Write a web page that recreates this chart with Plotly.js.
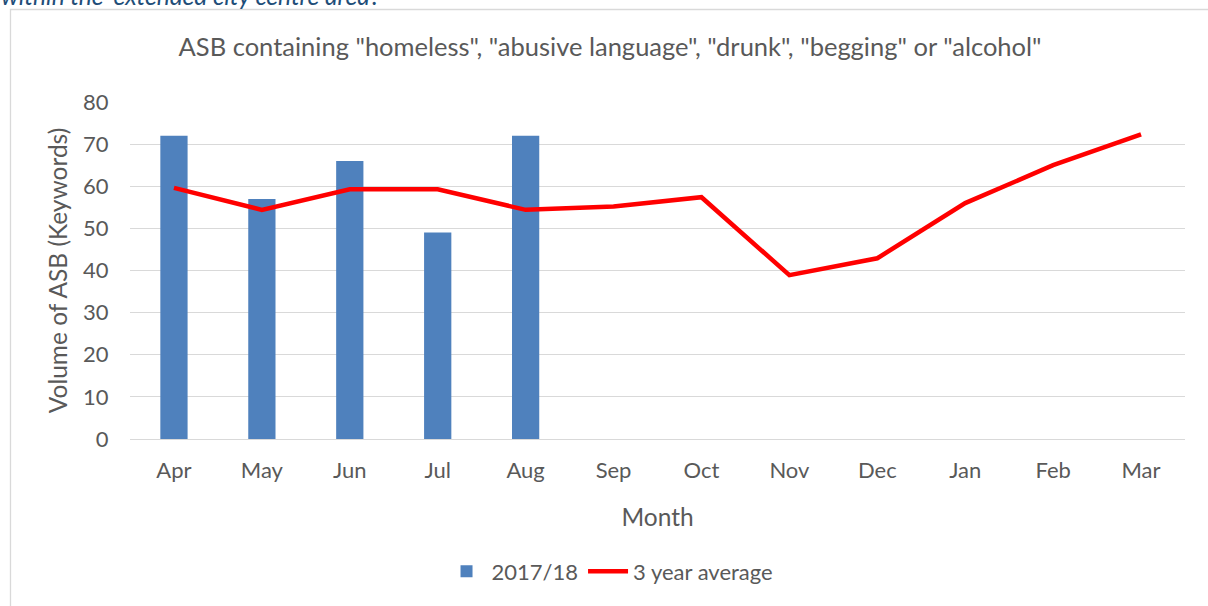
<!DOCTYPE html>
<html>
<head>
<meta charset="utf-8">
<script src="https://cdn.plot.ly/plotly-3.0.1.min.js"></script>
<style>
  html, body { margin: 0; padding: 0; background: #ffffff; }
  #chart { width: 1208px; height: 606px; }
</style>
</head>
<body>
<div id="chart"></div>
<script>
// ---- data ----
const months = ["Apr", "May", "Jun", "Jul", "Aug", "Sep", "Oct", "Nov", "Dec", "Jan", "Feb", "Mar"];
const series2017 = [72, 57, 66, 49, 72, null, null, null, null, null, null, null];
const threeYearAvg = [59.6, 54.4, 59.3, 59.3, 54.4, 55.2, 57.4, 38.9, 42.9, 56.0, 65.0, 72.3];
const yTicks = [0, 10, 20, 30, 40, 50, 60, 70, 80];

const FONT = "Lato, 'Open Sans', sans-serif";
const TXT = "#595959";

const traces = [
  {
    type: "bar",
    name: "2017/18",
    x: months,
    y: series2017,
    marker: { color: "#4F81BD" },
    hoverinfo: "x+y"
  },
  {
    type: "scatter",
    mode: "lines",
    name: "3 year average",
    x: months,
    y: threeYearAvg,
    line: { color: "#FF0000", width: 4.5, shape: "linear" },
    hoverinfo: "x+y"
  }
];

const layout = {
  width: 1208,
  height: 606,
  margin: { l: 130, r: 23, t: 102, b: 167 },
  paper_bgcolor: "#ffffff",
  plot_bgcolor: "#ffffff",
  font: { family: FONT, color: TXT, size: 22 },
  bargap: 0.69,
  showlegend: true,
  title: {
    text: 'ASB containing "homeless", "abusive language", "drunk", "begging" or "alcohol"',
    font: { family: FONT, size: 25.5, color: TXT },
    xref: "container", x: 0.505, xanchor: "center",
    yref: "container", y: 0.922, yanchor: "middle"
  },
  xaxis: {
    type: "category",
    categoryorder: "array",
    categoryarray: months,
    showgrid: false,
    showline: true,
    linecolor: "#d9d9d9",
    linewidth: 1,
    zeroline: false,
    ticks: "outside",
    ticklen: 12,
    tickcolor: "rgba(0,0,0,0)",
    tickfont: { family: FONT, size: 22, color: TXT },
    title: { text: "Month", font: { family: FONT, size: 24.5, color: TXT }, standoff: 26 },
    automargin: false,
    fixedrange: true
  },
  yaxis: {
    range: [0, 80],
    tickvals: yTicks,
    ticktext: yTicks.map(String),
    showgrid: true,
    gridcolor: "#d9d9d9",
    gridwidth: 1,
    zeroline: false,
    showline: false,
    ticks: "outside",
    ticklen: 16,
    tickcolor: "rgba(0,0,0,0)",
    tickfont: { family: FONT, size: 22, color: TXT },
    title: { text: "Volume of ASB (Keywords)", font: { family: FONT, size: 24.5, color: TXT }, standoff: 8 },
    automargin: false,
    fixedrange: true
  },
  legend: {
    orientation: "h",
    x: 0.455, xanchor: "center",
    y: -0.393, yanchor: "middle",
    font: { family: FONT, size: 22, color: TXT },
    bgcolor: "rgba(0,0,0,0)",
    itemwidth: 40,
    itemclick: false,
    itemdoubleclick: false
  },
  shapes: [
    {
      type: "rect", xref: "paper", yref: "paper", layer: "below",
      x0: (10.5 - 130) / 1055, x1: (1215 - 130) / 1055,
      y0: (439 - 620) / 337, y1: (439 - 9.5) / 337,
      line: { color: "#d9d9d9", width: 1.3 },
      fillcolor: "rgba(0,0,0,0)"
    }
  ],
  annotations: [
    {
      xref: "paper", yref: "paper",
      x: (-1 - 130) / 1055, xanchor: "left",
      y: (439 - (-5)) / 337, yanchor: "middle",
      text: "<i>within the 'extended city centre area'.</i>",
      showarrow: false,
      font: { family: FONT, size: 24.5, color: "#1F4E79" }
    }
  ]
};

Plotly.newPlot("chart", traces, layout, { displayModeBar: false, staticPlot: false, responsive: false });
</script>
</body>
</html>
